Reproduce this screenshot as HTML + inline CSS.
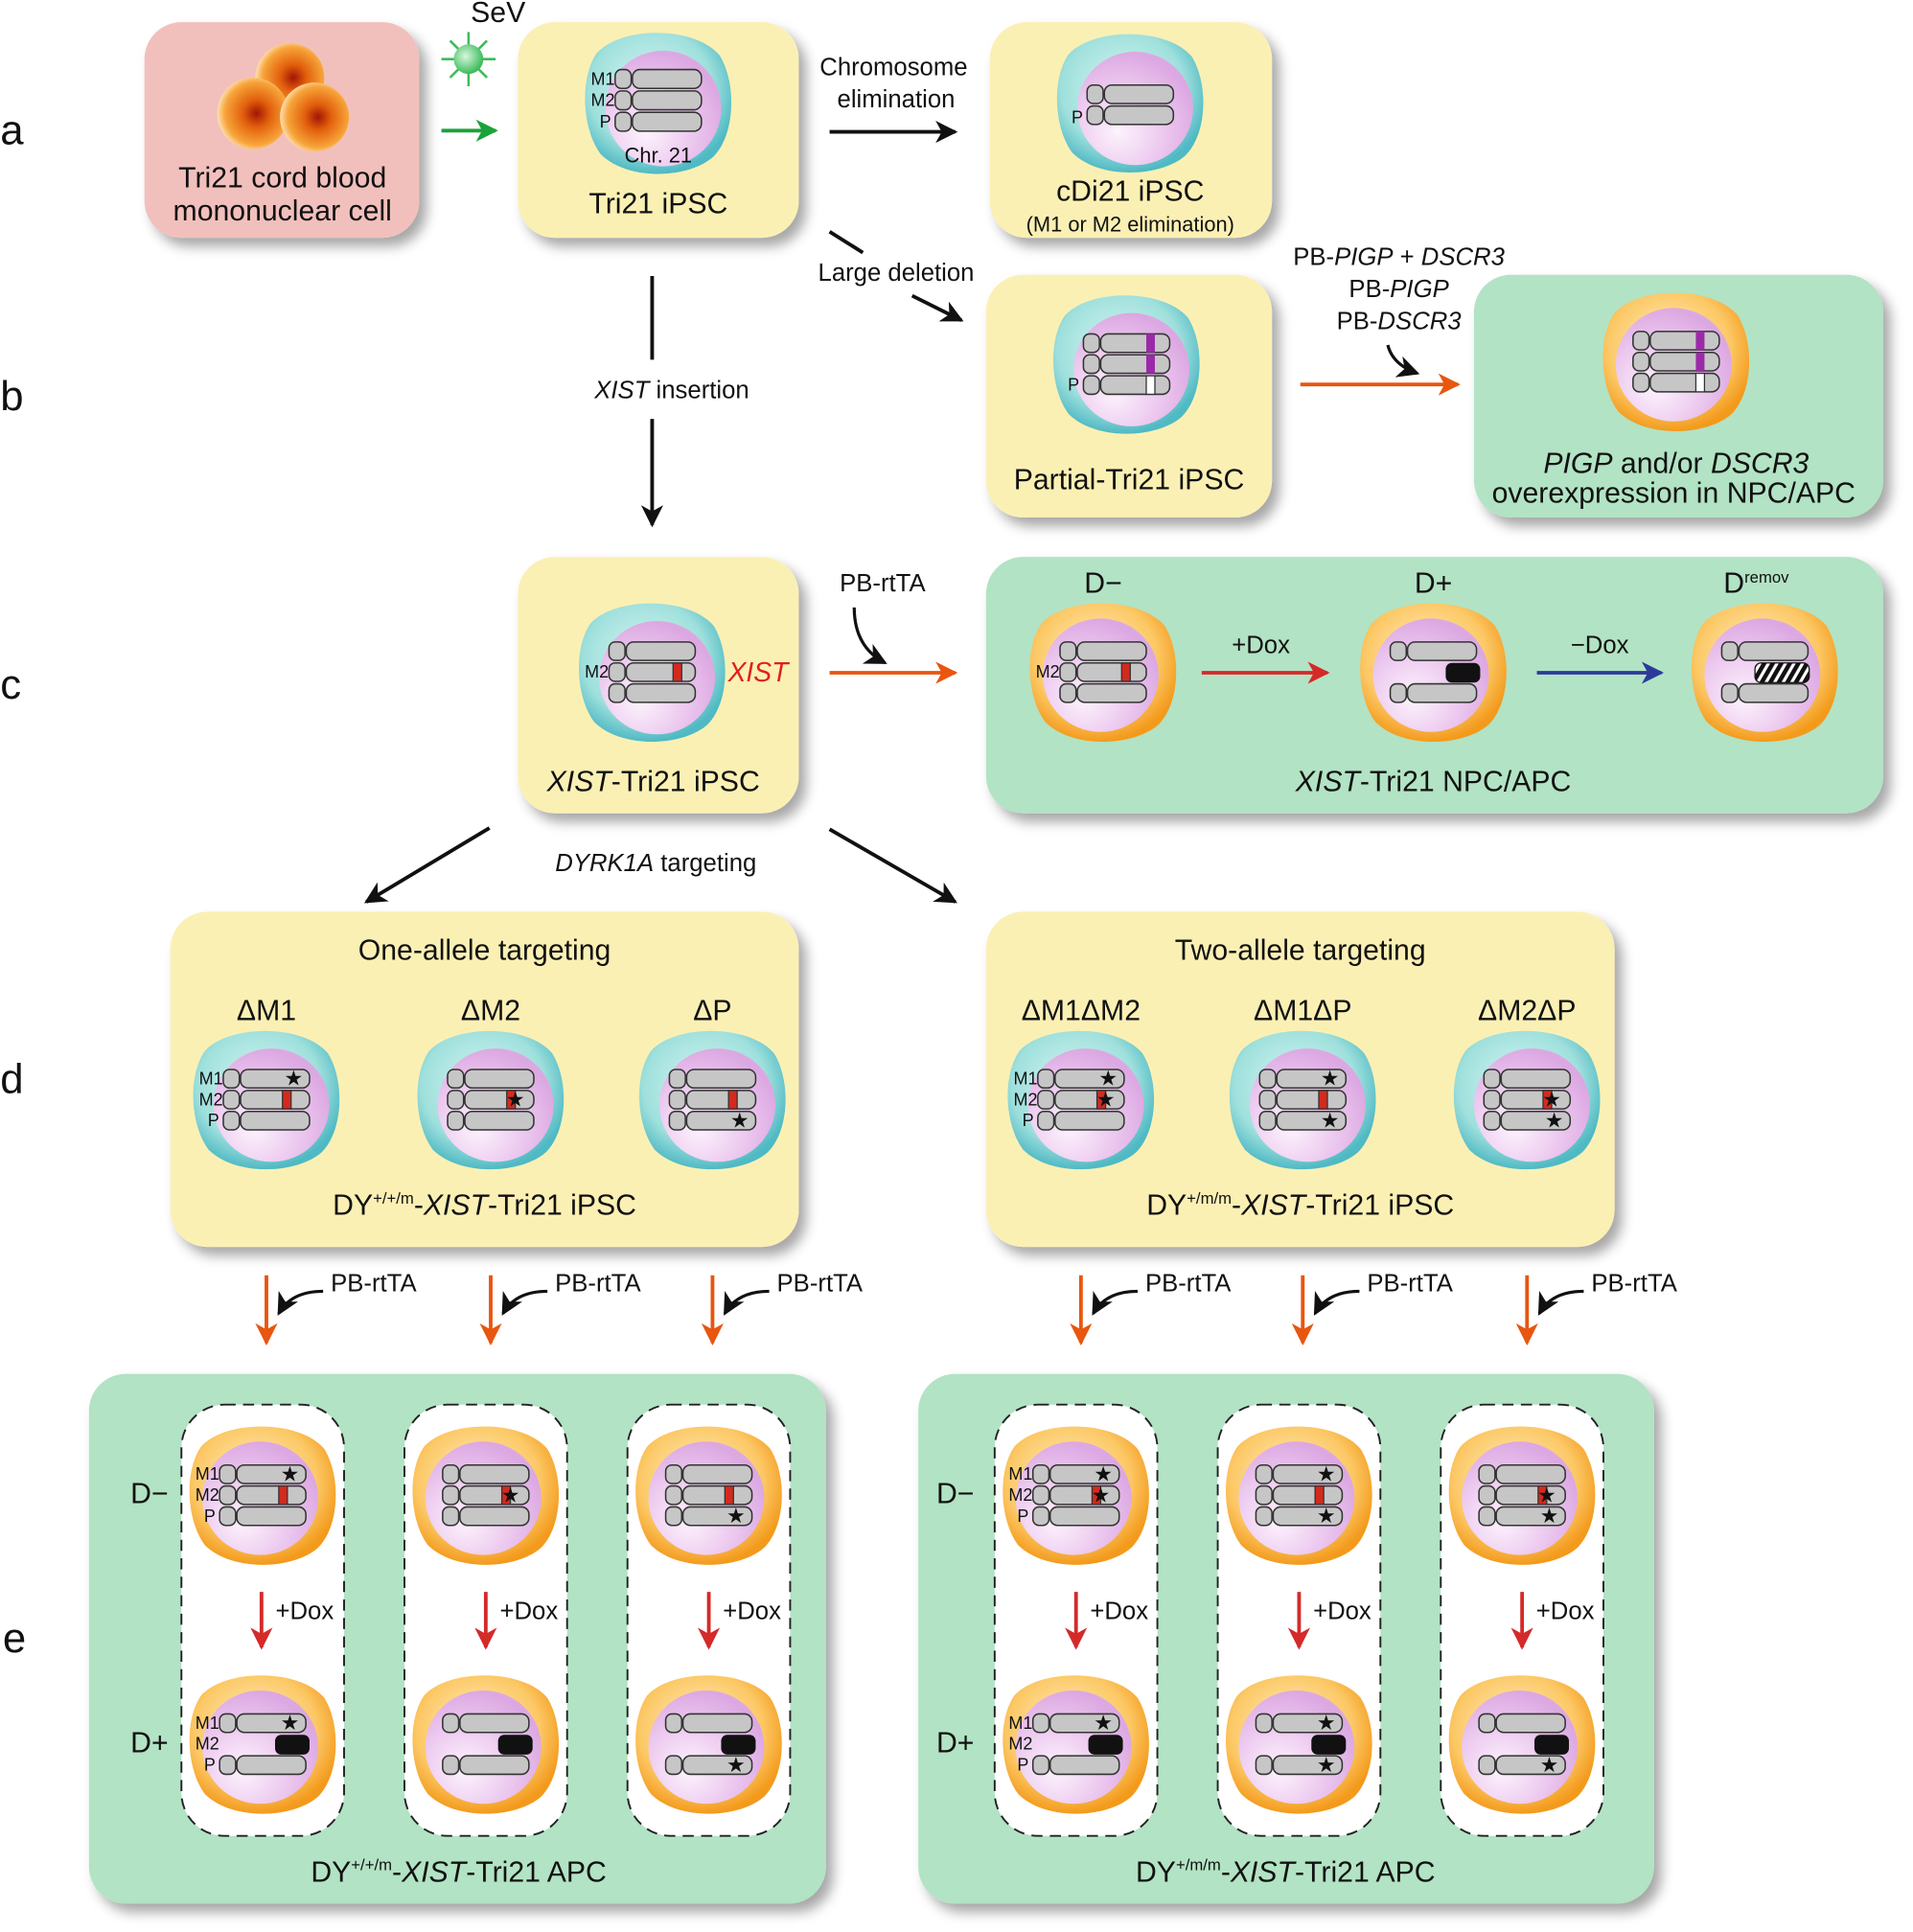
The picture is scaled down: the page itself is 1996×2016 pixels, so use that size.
<!DOCTYPE html>
<html><head><meta charset="utf-8"><style>
html,body{margin:0;padding:0;background:#fff;}
svg{display:block;}
text{font-family:"Liberation Sans",Arial,sans-serif;fill:#111;}
.t{font-size:23.5px;text-anchor:middle;}
.s{font-size:20px;text-anchor:middle;}
.l{font-size:14px;text-anchor:middle;}
.st{font-size:17px;text-anchor:middle;}
.big{font-size:34px;}
</style></head><body>
<svg width="1996" height="2016" viewBox="0 0 1552 1568" xmlns="http://www.w3.org/2000/svg">
<defs>
<filter id="sh" x="-10%" y="-10%" width="130%" height="130%"><feDropShadow dx="6" dy="7" stdDeviation="5" flood-color="#000" flood-opacity="0.35"/></filter>
<radialGradient id="gc" cx="45%" cy="40%" r="60%"><stop offset="0" stop-color="#d8f5f2"/><stop offset="0.7" stop-color="#9fe0dc"/><stop offset="1" stop-color="#4fb9c4"/></radialGradient>
<radialGradient id="go" cx="45%" cy="40%" r="60%"><stop offset="0" stop-color="#fff0c8"/><stop offset="0.7" stop-color="#fcc865"/><stop offset="1" stop-color="#f39a1c"/></radialGradient>
<radialGradient id="gp" cx="35%" cy="70%" r="70%"><stop offset="0" stop-color="#fdf3fd"/><stop offset="0.6" stop-color="#ebc6ee"/><stop offset="1" stop-color="#dca8e2"/></radialGradient>
<radialGradient id="gr" cx="55%" cy="50%" r="55%"><stop offset="0" stop-color="#a31605"/><stop offset="0.35" stop-color="#e2600c"/><stop offset="0.8" stop-color="#f7a43a"/><stop offset="1" stop-color="#fde0b0"/></radialGradient>
<radialGradient id="gv" cx="40%" cy="40%" r="60%"><stop offset="0" stop-color="#d6f8dc"/><stop offset="1" stop-color="#3dbb5c"/></radialGradient>
<pattern id="hatch" width="6" height="6" patternUnits="userSpaceOnUse" patternTransform="rotate(30)"><rect width="6" height="6" fill="#fff"/><rect width="3.5" height="6" fill="#111"/></pattern>
<marker id="mo" markerWidth="18" markerHeight="18" refX="16" refY="9" orient="auto" markerUnits="userSpaceOnUse"><path d="M0,0 L18,9 L0,18 L5,9z" fill="#e8560f"/></marker>
<marker id="mr" markerWidth="18" markerHeight="18" refX="16" refY="9" orient="auto" markerUnits="userSpaceOnUse"><path d="M0,0 L18,9 L0,18 L5,9z" fill="#d42a2a"/></marker>
<marker id="mb" markerWidth="18" markerHeight="18" refX="16" refY="9" orient="auto" markerUnits="userSpaceOnUse"><path d="M0,0 L18,9 L0,18 L5,9z" fill="#2b3a9a"/></marker>
<marker id="mg" markerWidth="18" markerHeight="18" refX="16" refY="9" orient="auto" markerUnits="userSpaceOnUse"><path d="M0,0 L18,9 L0,18 L5,9z" fill="#1aa33a"/></marker>
<marker id="mK" markerWidth="18" markerHeight="18" refX="16" refY="9" orient="auto" markerUnits="userSpaceOnUse"><path d="M0,0 L18,9 L0,18 L5,9z" fill="#111"/></marker>
<g id="cellc"><path d="M-50,-40 C-30,-62 30,-62 50,-38 C64,-15 62,25 45,42 C25,60 -25,62 -47,40 C-62,20 -64,-20 -50,-40z" fill="url(#gc)"/><ellipse cx="4" cy="4" rx="47" ry="46" fill="url(#gp)"/></g>
<g id="cello"><path d="M-50,-40 C-30,-62 30,-62 50,-38 C64,-15 62,25 45,42 C25,60 -25,62 -47,40 C-62,20 -64,-20 -50,-40z" fill="url(#go)"/><ellipse cx="-2" cy="2" rx="47" ry="46" fill="url(#gp)"/></g>
<g id="chr"><rect x="0" y="0" width="13" height="15" rx="5" fill="#c6c6c6" stroke="#333" stroke-width="1.2"/><rect x="14" y="0" width="56" height="15" rx="6" fill="#c6c6c6" stroke="#333" stroke-width="1.2"/></g>
<g id="c3"><use href="#chr" x="-35" y="-25"/><use href="#chr" x="-35" y="-8"/><use href="#chr" x="-35" y="9"/></g>
<g id="c2"><use href="#chr" x="-35" y="-25"/><use href="#chr" x="-35" y="9"/><rect x="10" y="-8" width="28" height="16" rx="5" fill="#111"/></g>
<g id="lab"><text class="l" x="-45" y="-13">M1</text><text class="l" x="-45" y="4">M2</text><text class="l" x="-43" y="21">P</text></g>
<rect id="band" x="10" y="-8" width="7" height="15" fill="#d42a1e" stroke="#333" stroke-width="1"/>
</defs>

<text class="big" x="0" y="117">a</text>
<text class="big" x="0" y="333">b</text>
<text class="big" x="0" y="567">c</text>
<text class="big" x="0" y="887">d</text>
<text class="big" x="2" y="1341">e</text>

<rect x="117" y="18" width="223" height="175" rx="30" fill="#f2c0bc" filter="url(#sh)"/>
<circle cx="235" cy="63" r="28" fill="url(#gr)"/>
<circle cx="205" cy="92" r="29" fill="url(#gr)"/>
<circle cx="255" cy="95" r="28" fill="url(#gr)"/>
<text class="t" x="229" y="152">Tri21 cord blood</text>
<text class="t" x="229" y="179">mononuclear cell</text>
<text class="t" x="404" y="18">SeV</text>
<g stroke="#3dbb5c" stroke-width="2">
<line x1="380" y1="48" x2="380" y2="26"/><line x1="380" y1="48" x2="380" y2="70"/><line x1="380" y1="48" x2="358" y2="48"/><line x1="380" y1="48" x2="402" y2="48"/>
<line x1="380" y1="48" x2="365" y2="33"/><line x1="380" y1="48" x2="395" y2="33"/><line x1="380" y1="48" x2="365" y2="63"/><line x1="380" y1="48" x2="395" y2="63"/></g>
<circle cx="380" cy="48" r="12" fill="url(#gv)"/>
<line x1="358" y1="106" x2="402" y2="106" stroke="#1aa33a" stroke-width="3" marker-end="url(#mg)"/>

<rect x="420" y="18" width="228" height="175" rx="30" fill="#fbf0b4" filter="url(#sh)"/>
<g transform="translate(534,84) scale(1,1.02)"><use href="#cellc"/><use href="#c3" y="-2"/><use href="#lab" y="-2"/></g>
<text class="st" x="534" y="132">Chr. 21</text>
<text class="t" x="534" y="173">Tri21 iPSC</text>

<text class="s" x="725" y="61">Chromosome</text>
<text class="s" x="727" y="87">elimination</text>
<line x1="673" y1="107" x2="775" y2="107" stroke="#111" stroke-width="3" marker-end="url(#mK)"/>

<rect x="803" y="18" width="229" height="175" rx="30" fill="#fbf0b4" filter="url(#sh)"/>
<g transform="translate(917,84)"><use href="#cellc"/><use href="#chr" x="-35" y="-15"/><use href="#chr" x="-35" y="2"/><text class="l" x="-43" y="16">P</text></g>
<text class="t" x="917" y="163">cDi21 iPSC</text>
<text class="st" x="917" y="188">(M1 or M2 elimination)</text>

<line x1="673" y1="188" x2="700" y2="205" stroke="#111" stroke-width="3"/>
<text class="s" x="727" y="228">Large deletion</text>
<line x1="740" y1="240" x2="780" y2="260" stroke="#111" stroke-width="3" marker-end="url(#mK)"/>

<rect x="800" y="223" width="232" height="197" rx="30" fill="#fbf0b4" filter="url(#sh)"/>
<g transform="translate(914,296)"><use href="#cellc"/><use href="#c3"/><rect x="16" y="-25" width="7" height="15" fill="#9a2ba8"/><rect x="16" y="-8" width="7" height="15" fill="#9a2ba8"/><rect x="16" y="9" width="7" height="15" fill="#fff" stroke="#333"/><text class="l" x="-43" y="21">P</text></g>
<text class="t" x="916" y="397">Partial-Tri21 iPSC</text>

<text class="s" x="1135" y="215">PB-<tspan font-style="italic">PIGP</tspan> + <tspan font-style="italic">DSCR3</tspan></text>
<text class="s" x="1135" y="241">PB-<tspan font-style="italic">PIGP</tspan></text>
<text class="s" x="1135" y="267">PB-<tspan font-style="italic">DSCR3</tspan></text>
<path d="M1126,280 Q1130,296 1150,303" fill="none" stroke="#111" stroke-width="2.5" marker-end="url(#mK)"/>
<line x1="1055" y1="312" x2="1183" y2="312" stroke="#e8560f" stroke-width="3" marker-end="url(#mo)"/>

<rect x="1196" y="223" width="332" height="197" rx="30" fill="#b2e3c4" filter="url(#sh)"/>
<g transform="translate(1360,294)"><use href="#cello"/><use href="#c3"/><rect x="16" y="-25" width="7" height="15" fill="#9a2ba8"/><rect x="16" y="-8" width="7" height="15" fill="#9a2ba8"/><rect x="16" y="9" width="7" height="15" fill="#fff" stroke="#333"/></g>
<text class="t" x="1360" y="384"><tspan font-style="italic">PIGP</tspan> and/or <tspan font-style="italic">DSCR3</tspan></text>
<text class="t" x="1358" y="408">overexpression in NPC/APC</text>

<line x1="529" y1="224" x2="529" y2="292" stroke="#111" stroke-width="3"/>
<text class="s" x="545" y="323"><tspan font-style="italic">XIST</tspan> insertion</text>
<line x1="529" y1="340" x2="529" y2="426" stroke="#111" stroke-width="3" marker-end="url(#mK)"/>

<rect x="420" y="452" width="228" height="208" rx="30" fill="#fbf0b4" filter="url(#sh)"/>
<g transform="translate(529,546)"><use href="#cellc"/><use href="#c3"/><use href="#band" x="7"/><text class="l" x="-45" y="4">M2</text></g>
<text x="615" y="553" style="font-size:22px;font-style:italic;fill:#e02020;text-anchor:middle">XIST</text>
<text class="t" x="530" y="642"><tspan font-style="italic">XIST</tspan>-Tri21 iPSC</text>

<text class="s" x="716" y="480">PB-rtTA</text>
<path d="M693,493 Q693,525 718,538" fill="none" stroke="#111" stroke-width="2.5" marker-end="url(#mK)"/>
<line x1="673" y1="546" x2="775" y2="546" stroke="#e8560f" stroke-width="3" marker-end="url(#mo)"/>

<rect x="800" y="452" width="728" height="208" rx="30" fill="#b2e3c4" filter="url(#sh)"/>
<text class="t" x="895" y="481">D−</text>
<text class="t" x="1163" y="481">D+</text>
<text class="t" x="1425" y="481">D<tspan font-size="13" dy="-8">remov</tspan></text>
<g transform="translate(895,546)"><use href="#cello"/><use href="#c3"/><use href="#band" x="5"/><text class="l" x="-45" y="4">M2</text></g>
<g transform="translate(1163,546)"><use href="#cello"/><use href="#c2"/></g>
<g transform="translate(1432,546)"><use href="#cello"/><use href="#chr" x="-35" y="-25"/><use href="#chr" x="-35" y="9"/><rect x="-8" y="-8" width="44" height="16" rx="5" fill="url(#hatch)" stroke="#111"/></g>
<text class="s" x="1023" y="530">+Dox</text>
<line x1="975" y1="546" x2="1077" y2="546" stroke="#d42a2a" stroke-width="3" marker-end="url(#mr)"/>
<text class="s" x="1298" y="530">−Dox</text>
<line x1="1247" y1="546" x2="1348" y2="546" stroke="#2b3a9a" stroke-width="3" marker-end="url(#mb)"/>
<text class="t" x="1163" y="642"><tspan font-style="italic">XIST</tspan>-Tri21 NPC/APC</text>

<line x1="397" y1="672" x2="297" y2="732" stroke="#111" stroke-width="3" marker-end="url(#mK)"/>
<text class="s" x="532" y="707"><tspan font-style="italic">DYRK1A</tspan> targeting</text>
<line x1="673" y1="673" x2="775" y2="732" stroke="#111" stroke-width="3" marker-end="url(#mK)"/>

<rect x="138" y="740" width="510" height="272" rx="30" fill="#fbf0b4" filter="url(#sh)"/>
<rect x="800" y="740" width="510" height="272" rx="30" fill="#fbf0b4" filter="url(#sh)"/>
<text class="t" x="393" y="779">One-allele targeting</text>
<text class="t" x="1055" y="779">Two-allele targeting</text>
<text class="t" x="216" y="828">ΔM1</text><text class="t" x="398" y="828">ΔM2</text><text class="t" x="578" y="828">ΔP</text>
<text class="t" x="877" y="828">ΔM1ΔM2</text><text class="t" x="1057" y="828">ΔM1ΔP</text><text class="t" x="1239" y="828">ΔM2ΔP</text>

<g transform="translate(216,893)"><use href="#cellc"/><use href="#c3"/><use href="#band" x="3"/><text class="st" x="22" y="-12">★</text><use href="#lab"/></g>
<g transform="translate(398,893)"><use href="#cellc"/><use href="#c3"/><use href="#band" x="3"/><text class="st" x="20" y="5">★</text></g>
<g transform="translate(578,893)"><use href="#cellc"/><use href="#c3"/><use href="#band" x="3"/><text class="st" x="22" y="22">★</text></g>
<g transform="translate(877,893)"><use href="#cellc"/><use href="#c3"/><use href="#band" x="3"/><text class="st" x="22" y="-12">★</text><text class="st" x="20" y="5">★</text><use href="#lab"/></g>
<g transform="translate(1057,893)"><use href="#cellc"/><use href="#c3"/><use href="#band" x="3"/><text class="st" x="22" y="-12">★</text><text class="st" x="22" y="22">★</text></g>
<g transform="translate(1239,893)"><use href="#cellc"/><use href="#c3"/><use href="#band" x="3"/><text class="st" x="20" y="5">★</text><text class="st" x="22" y="22">★</text></g>
<text class="t" x="393" y="986">DY<tspan font-size="13" dy="-9">+/+/m</tspan><tspan dy="9">-</tspan><tspan font-style="italic">XIST</tspan>-Tri21 iPSC</text>
<text class="t" x="1055" y="986">DY<tspan font-size="13" dy="-9">+/m/m</tspan><tspan dy="9">-</tspan><tspan font-style="italic">XIST</tspan>-Tri21 iPSC</text>

<g id="pa">
<line x1="216" y1="1035" x2="216" y2="1090" stroke="#e8560f" stroke-width="3" marker-end="url(#mo)"/>
<path d="M262,1048 Q236,1048 226,1066" fill="none" stroke="#111" stroke-width="2.5" marker-end="url(#mK)"/>
</g>
<use href="#pa" x="182"/><use href="#pa" x="362"/><use href="#pa" x="661"/><use href="#pa" x="841"/><use href="#pa" x="1023"/>
<text class="s" x="303" y="1048">PB-rtTA</text><text class="s" x="485" y="1048">PB-rtTA</text><text class="s" x="665" y="1048">PB-rtTA</text>
<text class="s" x="964" y="1048">PB-rtTA</text><text class="s" x="1144" y="1048">PB-rtTA</text><text class="s" x="1326" y="1048">PB-rtTA</text>

<rect x="72" y="1115" width="598" height="430" rx="30" fill="#b2e3c4" filter="url(#sh)"/>
<rect x="745" y="1115" width="597" height="430" rx="30" fill="#b2e3c4" filter="url(#sh)"/>
<g fill="#fff" stroke="#222" stroke-width="1.5" stroke-dasharray="9,6">
<rect x="147" y="1140" width="132" height="350" rx="35"/><rect x="328" y="1140" width="132" height="350" rx="35"/><rect x="509" y="1140" width="132" height="350" rx="35"/>
<rect x="807" y="1140" width="132" height="350" rx="35"/><rect x="988" y="1140" width="132" height="350" rx="35"/><rect x="1169" y="1140" width="132" height="350" rx="35"/>
</g>
<text class="t" x="121" y="1220">D−</text><text class="t" x="121" y="1422">D+</text>
<text class="t" x="775" y="1220">D−</text><text class="t" x="775" y="1422">D+</text>

<g transform="translate(213,1214)"><use href="#cello"/><use href="#c3"/><use href="#band" x="3"/><text class="st" x="22" y="-12">★</text><use href="#lab"/></g>
<g transform="translate(394,1214)"><use href="#cello"/><use href="#c3"/><use href="#band" x="3"/><text class="st" x="20" y="5">★</text></g>
<g transform="translate(575,1214)"><use href="#cello"/><use href="#c3"/><use href="#band" x="3"/><text class="st" x="22" y="22">★</text></g>
<g transform="translate(873,1214)"><use href="#cello"/><use href="#c3"/><use href="#band" x="3"/><text class="st" x="22" y="-12">★</text><text class="st" x="20" y="5">★</text><use href="#lab"/></g>
<g transform="translate(1054,1214)"><use href="#cello"/><use href="#c3"/><use href="#band" x="3"/><text class="st" x="22" y="-12">★</text><text class="st" x="22" y="22">★</text></g>
<g transform="translate(1235,1214)"><use href="#cello"/><use href="#c3"/><use href="#band" x="3"/><text class="st" x="20" y="5">★</text><text class="st" x="22" y="22">★</text></g>

<g transform="translate(213,1416)"><use href="#cello"/><use href="#c2"/><text class="st" x="22" y="-12">★</text><use href="#lab"/></g>
<g transform="translate(394,1416)"><use href="#cello"/><use href="#c2"/></g>
<g transform="translate(575,1416)"><use href="#cello"/><use href="#c2"/><text class="st" x="22" y="22">★</text></g>
<g transform="translate(873,1416)"><use href="#cello"/><use href="#c2"/><text class="st" x="22" y="-12">★</text><use href="#lab"/></g>
<g transform="translate(1054,1416)"><use href="#cello"/><use href="#c2"/><text class="st" x="22" y="-12">★</text><text class="st" x="22" y="22">★</text></g>
<g transform="translate(1235,1416)"><use href="#cello"/><use href="#c2"/><text class="st" x="22" y="22">★</text></g>

<g id="da"><line x1="212" y1="1292" x2="212" y2="1337" stroke="#d42a2a" stroke-width="3" marker-end="url(#mr)"/></g>
<use href="#da" x="182"/><use href="#da" x="363"/><use href="#da" x="661"/><use href="#da" x="842"/><use href="#da" x="1023"/>
<text class="s" x="247" y="1314">+Dox</text><text class="s" x="429" y="1314">+Dox</text><text class="s" x="610" y="1314">+Dox</text>
<text class="s" x="908" y="1314">+Dox</text><text class="s" x="1089" y="1314">+Dox</text><text class="s" x="1270" y="1314">+Dox</text>

<text class="t" x="372" y="1527">DY<tspan font-size="13" dy="-9">+/+/m</tspan><tspan dy="9">-</tspan><tspan font-style="italic">XIST</tspan>-Tri21 APC</text>
<text class="t" x="1043" y="1527">DY<tspan font-size="13" dy="-9">+/m/m</tspan><tspan dy="9">-</tspan><tspan font-style="italic">XIST</tspan>-Tri21 APC</text>
</svg>
</body></html>
